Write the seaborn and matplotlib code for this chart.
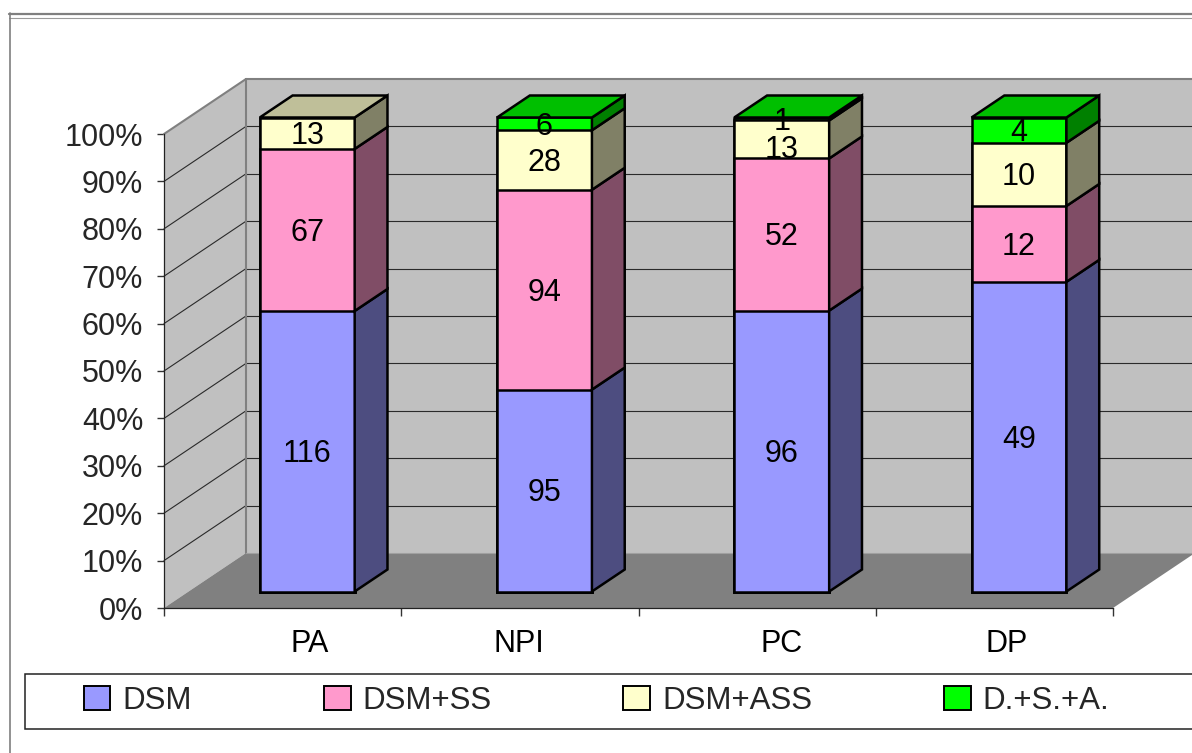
import numpy as np
import pandas as pd
import matplotlib
matplotlib.use("Agg")
import matplotlib.pyplot as plt
from matplotlib.patches import Polygon, Patch, Rectangle
from matplotlib.lines import Line2D
from matplotlib.colors import to_rgb
from matplotlib.transforms import ScaledTranslation, IdentityTransform
import seaborn as sns

# ---- data -------------------------------------------------------------
categories = ["PA", "NPI", "PC", "DP"]
series = ["DSM", "DSM+SS", "DSM+ASS", "D.+S.+A."]
dsm = [116, 95, 96, 49]
dsm_ss = [67, 94, 52, 12]
dsm_ass = [13, 28, 13, 10]
dsa = [0, 6, 1, 4]
y_ticks = list(range(0, 101, 10))

# ---- style ------------------------------------------------------------
front_colors = ["#9999FF", "#FF99CC", "#FFFFCC", "#00FF00"]
WALL = "#C0C0C0"
FLOOR = "#808080"
EDGE_GRAY = "#808080"
GRID = "#2a2a2a"
FS = 22
W, H, DPI = 1192, 753, 100
DEPTH = np.array([82.0, 55.0])      # px offset from front plane to back wall
D0, D1 = 0.3, 0.7                   # bar front / back depth fractions
BAR_W = 0.4
EDGE_LW = 1.8
cat_label_dx = [27, -1, 24, 12]     # px nudges of category labels
label_dy = {("PC", "DSM+ASS"): -8}  # px nudges of crowded value labels

sns.set_style("white")
plt.rcParams["font.family"] = ["Liberation Sans", "DejaVu Sans"]

counts = np.array([dsm, dsm_ss, dsm_ass, dsa], dtype=float)
pct = counts / counts.sum(axis=0) * 100
cum = np.cumsum(pct, axis=0)
df = pd.DataFrame({"category": categories})
for j in range(len(series)):
    df[f"cum{j}"] = cum[j]

fig = plt.figure(figsize=(W / DPI, H / DPI), dpi=DPI)
fig.patch.set_facecolor("white")

# front plane of the plot box (pixel geometry of the 3-D frame)
x_left, x_right, y_bot, y_top = 164, 1113, 608, 134
ax = fig.add_axes([x_left / W, (H - y_bot) / H, (x_right - x_left) / W,
                   (y_bot - y_top) / H])
ax.patch.set_visible(False)

# stacked 100% columns: draw cumulative heights from the top series down
n_before = len(ax.patches)
for j in reversed(range(len(series))):
    sns.barplot(data=df, x="category", y=f"cum{j}", color=front_colors[j],
                saturation=1, width=BAR_W, edgecolor="black",
                linewidth=EDGE_LW, errorbar=None, ax=ax, zorder=3)
bar_patches = ax.patches[n_before:]

ax.set_xlim(-0.5, len(categories) - 0.5)
ax.set_ylim(0, 100)
ax.set_xlabel("")
ax.set_ylabel("")


def shift(d, dx=0.0, dy=0.0):
    return ax.transData + ScaledTranslation((d * DEPTH[0] + dx) / DPI,
                                            (d * DEPTH[1] + dy) / DPI,
                                            fig.dpi_scale_trans)


def to_px(x, y, d):
    return ax.transData.transform((x, y)) + d * DEPTH


def poly(pts, **kw):
    p = Polygon(np.array(pts), closed=True, transform=IdentityTransform(),
                clip_on=False, **kw)
    ax.add_patch(p)
    return p


def seg(p0, p1, **kw):
    ln = Line2D([p0[0], p1[0]], [p0[1], p1[1]], transform=IdentityTransform(),
                clip_on=False, **kw)
    ax.add_line(ln)


for p in bar_patches:
    p.set_transform(shift(D0))
    p.set_clip_on(False)
    p.set_joinstyle("miter")

xa, xb = -0.5, len(categories) - 0.5

# walls and floor
poly([to_px(xa, 0, 0), to_px(xa, 100, 0), to_px(xa, 100, 1), to_px(xa, 0, 1)],
     facecolor=WALL, edgecolor="none", zorder=0.5)
poly([to_px(xa, 0, 1), to_px(xb, 0, 1), to_px(xb, 100, 1), to_px(xa, 100, 1)],
     facecolor=WALL, edgecolor="none", zorder=0.5)
poly([to_px(xa, 0, 0), to_px(xb, 0, 0), to_px(xb, 0, 1), to_px(xa, 0, 1)],
     facecolor=FLOOR, edgecolor="none", zorder=0.6)

# gridlines on side wall and back wall
for v in y_ticks[1:-1]:
    seg(to_px(xa, v, 0), to_px(xa, v, 1), color=GRID, lw=0.8, zorder=0.8)
    seg(to_px(xa, v, 1), to_px(xb, v, 1), color=GRID, lw=0.8, zorder=0.8)

# wall outlines
seg(to_px(xa, 100, 0), to_px(xa, 100, 1), color=EDGE_GRAY, lw=1.5, zorder=0.9)
seg(to_px(xa, 100, 1), to_px(xb, 100, 1), color=EDGE_GRAY, lw=1.5, zorder=0.9)
seg(to_px(xa, 0, 1), to_px(xa, 100, 1), color=EDGE_GRAY, lw=1.5, zorder=0.9)
seg(to_px(xa, 0, 1), to_px(xb, 0, 1), color="#a0a0a0", lw=0.8, zorder=0.9)

# side and top faces of every column
for i, cat in enumerate(categories):
    x0, x1 = i - BAR_W / 2, i + BAR_W / 2
    top_j = 0
    for j in range(len(series)):
        if counts[j, i] <= 0:
            continue
        top_j = j
        b, t = cum[j, i] - pct[j, i], cum[j, i]
        shade = tuple(0.5 * c for c in to_rgb(front_colors[j]))
        poly([to_px(x1, b, D0), to_px(x1, t, D0), to_px(x1, t, D1), to_px(x1, b, D1)],
             facecolor=shade, edgecolor="black", lw=EDGE_LW, joinstyle="miter",
             zorder=3.1)
    lit = tuple(0.75 * c for c in to_rgb(front_colors[top_j]))
    poly([to_px(x0, 100, D0), to_px(x1, 100, D0), to_px(x1, 100, D1), to_px(x0, 100, D1)],
         facecolor=lit, edgecolor="black", lw=EDGE_LW, joinstyle="miter", zorder=3.1)

# value labels in the middle of each segment
cap_half = 0.716 * FS * DPI / 72 / 2
for i, cat in enumerate(categories):
    for j, name in enumerate(series):
        v = counts[j, i]
        if v <= 0:
            continue
        mid = cum[j, i] - pct[j, i] / 2
        dy = label_dy.get((cat, name), 0) - cap_half
        ax.text(i, mid, f"{int(v)}", transform=shift(D0, 0, dy), ha="center",
                va="baseline", fontsize=FS, color="black", zorder=5, clip_on=False)

# category labels under the floor
for i, cat in enumerate(categories):
    ax.text(i, 0, cat, transform=shift(0, cat_label_dx[i], -44.5), ha="center",
            va="baseline", fontsize=FS, color="black", clip_on=False)

# axes: value ticks on the front edge, category boundary ticks below
ax.set_yticks(y_ticks)
ax.set_yticklabels([f"{v}%" for v in y_ticks], fontsize=FS)
ax.set_xticks(np.arange(len(categories) + 1) - 0.5)
ax.set_xticklabels([""] * (len(categories) + 1))
ax.tick_params(axis="y", left=True, length=5, width=1, color="#333333", pad=10)
ax.tick_params(axis="x", bottom=True, length=5.5, width=1, color="#333333")
for s in ("top", "right"):
    ax.spines[s].set_visible(False)
for s in ("left", "bottom"):
    ax.spines[s].set_visible(True)
    ax.spines[s].set_color("#222222")
    ax.spines[s].set_linewidth(0.9)
    ax.spines[s].set_zorder(1)
ax.grid(False)

# chart frame and legend box
fig.add_artist(Line2D([9 / W, 1], [(H - 13.5) / H] * 2, color="#7f7f7f", lw=1.6))
fig.add_artist(Line2D([9 / W, 1], [(H - 17.5) / H] * 2, color="#9a9a9a", lw=0.8))
fig.add_artist(Line2D([9.5 / W] * 2, [0, (H - 13) / H], color="#7f7f7f", lw=1.2))
fig.add_artist(Rectangle((25 / W, (H - 729) / H), (1210 - 25) / W, 55 / H,
                         transform=fig.transFigure, facecolor="white",
                         edgecolor="#222222", lw=1.1))

handles = [Patch(facecolor=c, edgecolor="black", linewidth=1.4) for c in front_colors]
fig.legend(handles, series, ncol=4, frameon=False, fontsize=22.5,
           loc="center left", bbox_to_anchor=(83.5 / W, (H - 701) / H),
           borderpad=0, borderaxespad=0, handlelength=0.86, handleheight=0.77,
           handletextpad=0.38, columnspacing=4.22)

fig.savefig("out.png", dpi=DPI, facecolor="white")
